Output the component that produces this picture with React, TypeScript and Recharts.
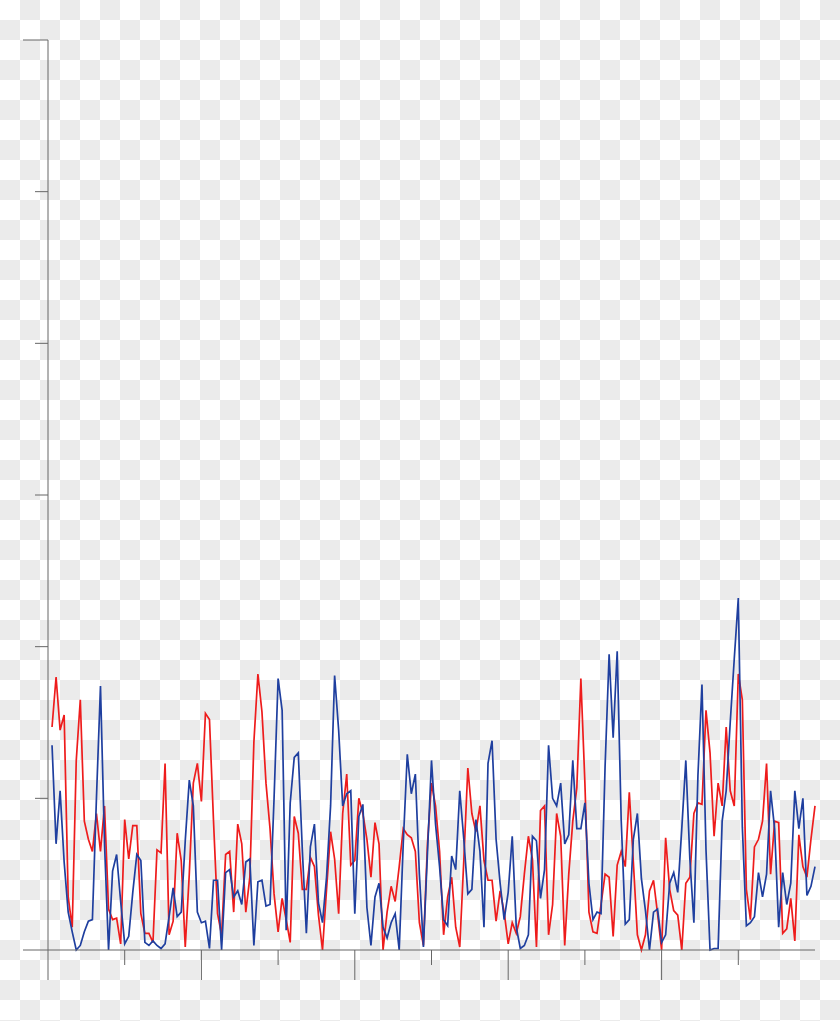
import React from 'react';
import { LineChart, Line, XAxis, YAxis } from 'recharts';

// values, one sample every ~4px
const redSeries = [
  14.7, 18.0, 14.5, 15.5, 3.5, 1.5, 12.5, 16.5, 8.5, 7.3,
  6.5, 9.0, 6.5, 9.5, 2.7, 2.0, 2.1, 0.4, 8.6, 6.0,
  8.2, 8.2, 2.4, 1.1, 1.1, 0.5, 6.6, 6.4, 12.3, 1.0,
  1.9, 7.7, 5.9, 0.2, 5.0, 11.0, 12.3, 9.8, 15.6, 15.2,
  8.5, 2.4, 1.0, 6.3, 6.5, 2.5, 8.3, 7.0, 2.5, 4.8,
  13.7, 18.2, 15.7, 11.0, 8.0, 3.7, 1.2, 3.4, 2.0, 0.5,
  8.8, 7.7, 4.0, 4.0, 6.1, 5.5, 2.3, 0.0, 4.0, 7.8,
  6.0, 2.4, 9.0, 11.6, 5.6, 5.9, 10.0, 9.0, 7.3, 4.8,
  8.4, 7.0, 0.0, 2.5, 4.2, 3.2, 5.5, 8.0, 7.6, 7.4,
  6.5, 1.8, 0.3, 7.0, 11.0, 9.5, 6.5, 1.0, 3.5, 4.8,
  1.5, 0.2, 5.9, 12.0, 9.0, 7.8, 9.5, 5.9, 4.6, 4.6,
  1.9, 3.9, 2.5, 0.4, 1.8, 1.1, 2.2, 5.0, 7.5, 6.0,
  0.2, 9.2, 9.5, 1.0, 3.0, 9.0, 7.5, 0.3, 5.0, 8.5,
  10.7, 17.9, 11.0, 2.5, 1.2, 1.1, 3.0, 5.0, 4.8, 0.9,
  5.6, 6.5, 5.5, 10.4, 5.8, 1.0, 0.0, 1.0, 3.9, 4.6,
  2.4, 0.0, 7.4, 4.0, 2.6, 2.3, 0.0, 4.4, 4.8, 9.0,
  9.7, 9.6, 15.8, 13.0, 7.5, 11.0, 9.5, 14.7, 10.5, 9.5,
  18.2, 16.5, 4.0, 2.0, 6.8, 7.3, 8.5, 12.3, 5.0, 8.5,
  8.4, 1.1, 1.4, 3.4, 0.6, 7.6, 5.5, 4.8, 7.3, 9.5,
];

const blueSeries = [
  13.5, 7.0, 10.5, 5.8, 2.5, 1.2, 0.0, 0.3, 1.2, 1.9,
  2.0, 10.0, 17.4, 7.0, 0.0, 5.2, 6.3, 3.2, 0.4, 0.9,
  3.8, 6.3, 5.9, 0.5, 0.3, 0.6, 0.3, 0.1, 0.4, 2.2,
  4.1, 2.2, 2.5, 7.2, 11.2, 9.5, 2.5, 1.8, 1.9, 0.1,
  4.6, 4.6, 0.0, 5.1, 5.3, 3.5, 3.9, 3.0, 5.8, 6.0,
  0.3, 4.5, 4.6, 2.9, 3.0, 10.0, 17.9, 15.8, 1.3, 9.7,
  12.7, 13.0, 6.6, 1.1, 6.8, 8.3, 3.1, 1.8, 4.8, 9.5,
  18.1, 14.5, 9.5, 10.3, 10.5, 2.4, 8.8, 9.6, 2.8, 0.3,
  3.5, 4.4, 1.5, 0.8, 1.8, 2.4, 0.0, 7.0, 12.9, 10.3,
  11.6, 5.0, 0.2, 6.4, 12.5, 8.3, 5.5, 2.0, 1.6, 6.2,
  5.3, 10.5, 7.3, 3.7, 4.0, 8.6, 6.5, 1.5, 12.3, 13.8,
  7.3, 4.4, 2.0, 3.8, 7.5, 1.5, 0.1, 0.3, 1.0, 7.5,
  7.2, 3.4, 5.3, 13.5, 10.0, 9.5, 11.0, 7.0, 7.6, 12.5,
  8.0, 8.0, 9.7, 4.4, 2.0, 2.5, 2.4, 12.1, 19.5, 14.0,
  19.7, 8.5, 1.7, 2.0, 7.3, 9.0, 4.7, 2.6, 0.0, 2.5,
  2.7, 0.5, 1.0, 4.4, 5.1, 3.8, 8.0, 12.5, 6.0, 1.8,
  11.5, 17.5, 6.6, 0.0, 0.1, 0.1, 8.5, 10.5, 15.0, 19.2,
  23.2, 8.1, 1.6, 1.8, 2.2, 5.1, 3.5, 5.0, 10.5, 8.0,
  1.5, 5.1, 3.0, 4.4, 10.5, 8.0, 10.0, 3.6, 4.2, 5.5,
];

const xTicks = [0, 19, 38, 57, 76, 95, 114, 133, 152, 171];
const yTicks = [0, 10, 20, 30, 40, 50, 60];

const data = redSeries.map((r, k) => ({ i: k + 1, red: r, blue: blueSeries[k] }));

const AXIS = '#666666';

const XTick = (props: any) => {
  const { x, y, payload } = props;
  const len = payload.value % 38 === 0 ? 30 : 15;
  return <line x1={x} y1={y} x2={x} y2={y + len} stroke={AXIS} strokeWidth={1} />;
};

const YTick = (props: any) => {
  const { x, y, payload } = props;
  const len = payload.value === 0 || payload.value === 60 ? 25 : 13;
  return <line x1={x - len} y1={y} x2={x} y2={y} stroke={AXIS} strokeWidth={1} />;
};

export default function App() {
  return (
    <div
      style={{
        position: 'absolute',
        left: 0,
        top: 0,
        width: 840,
        height: 1021,
        backgroundColor: '#ffffff',
        backgroundImage: 'conic-gradient(#ebebeb 25%, #ffffff 0 50%, #ebebeb 0 75%, #ffffff 0)',
        backgroundSize: '40px 40px',
      }}
    >
      <LineChart width={840} height={1021} data={data} margin={{ top: 40, right: 25, bottom: 70, left: 0 }}>
        <XAxis
          dataKey="i"
          type="number"
          domain={[0, 190]}
          ticks={xTicks}
          height={1}
          tickSize={0}
          tickMargin={0}
          tickLine={false}
          tick={<XTick />}
          stroke={AXIS}
        />
        <YAxis
          type="number"
          domain={[0, 60]}
          ticks={yTicks}
          width={48}
          tickSize={0}
          tickMargin={0}
          tickLine={false}
          tick={<YTick />}
          stroke={AXIS}
        />
        <Line type="linear" dataKey="red" stroke="#ee1c1c" strokeWidth={1.7} dot={false} isAnimationActive={false} />
        <Line type="linear" dataKey="blue" stroke="#1f3f9f" strokeWidth={1.7} dot={false} isAnimationActive={false} />
      </LineChart>
    </div>
  );
}
